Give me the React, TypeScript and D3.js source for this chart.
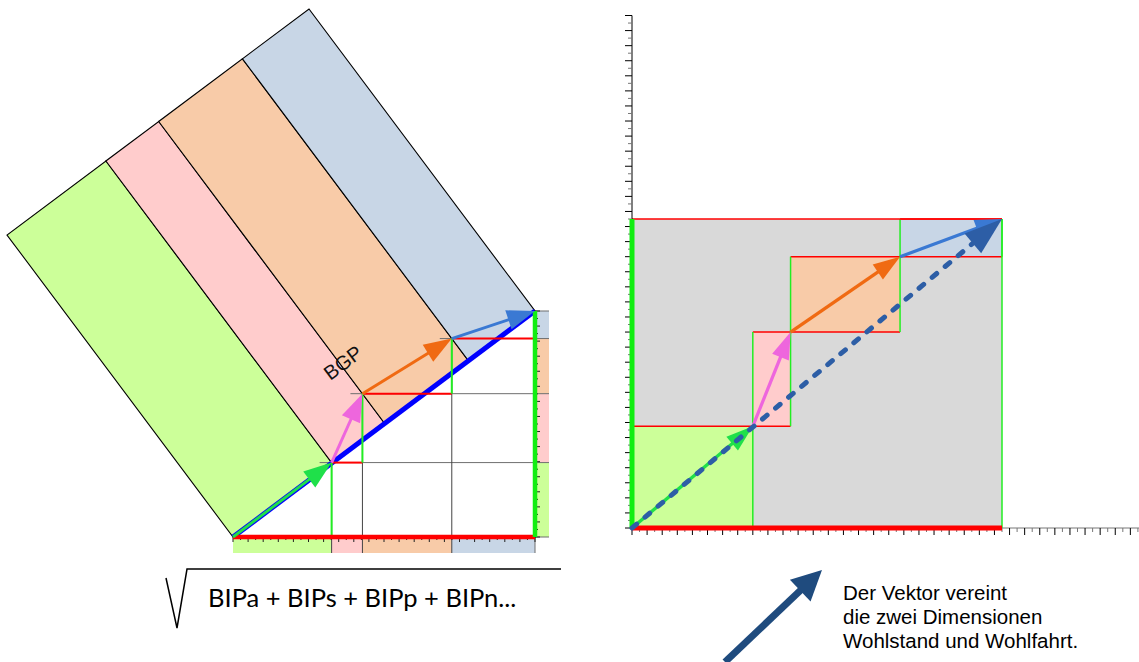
import React from 'react';
import * as d3 from 'd3';

// components of each vector: horizontal (Wohlstand) and vertical (Wohlfahrt)
const categories = ['BIPa', 'BIPs', 'BIPp', 'BIPn'];
const wohlstand = [16, 5, 14.5, 13.5];
const wohlfahrt = [13.5, 12.5, 10, 5];
const fillColors = ['#ccff99', '#ffcccc', '#f8cba8', '#c8d6e6'];
const arrowColors = ['#1fe04a', '#ee66dd', '#f06a12', '#3a79d3'];
const squareLabel = 'BGP';
const sumLabel = 'BIPa + BIPs + BIPp + BIPn...';
const noteLines = ['Der Vektor vereint', 'die zwei Dimensionen', 'Wohlstand und Wohlfahrt.'];

const W = 1139;
const H = 662;

type ArrowProps = {
  x1: number; y1: number; x2: number; y2: number;
  color: string; width: number; head: number; half: number; dash?: string;
};

function Arrow({x1, y1, x2, y2, color, width, head, half, dash}: ArrowProps) {
  const dx = x2 - x1;
  const dy = y2 - y1;
  const len = Math.hypot(dx, dy);
  const ux = dx / len;
  const uy = dy / len;
  const bx = x2 - ux * head;
  const by = y2 - uy * head;
  const pts = [
    [x2, y2],
    [bx - uy * half, by + ux * half],
    [bx + uy * half, by - ux * half],
  ];
  return (
    <g>
      <line x1={x1} y1={y1} x2={bx + ux * 3} y2={by + uy * 3} stroke={color} strokeWidth={width}
        strokeDasharray={dash} strokeLinecap={dash ? 'round' : 'butt'} />
      <polygon points={pts.map(p => p.join(',')).join(' ')} fill={color} />
    </g>
  );
}

export default function App() {
  const cumX = [0, ...Array.from(d3.cumsum(wohlstand))];
  const cumY = [0, ...Array.from(d3.cumsum(wohlfahrt))];
  const totX = cumX[cumX.length - 1];
  const totY = cumY[cumY.length - 1];

  // left: Pythagoras construction
  const xL = d3.scaleLinear().domain([0, totX]).range([233, 535]);
  const yL = d3.scaleLinear().domain([0, totY]).range([537, 311]);
  // right: coordinate system
  const xR = d3.scaleLinear().domain([0, totX]).range([632, 1002]);
  const yR = d3.scaleLinear().domain([0, totY]).range([528, 219]);

  const O = [xL(0), yL(0)];
  const E = [xL(totX), yL(totY)];
  const hyp = Math.hypot(E[0] - O[0], E[1] - O[1]);
  const u = [(E[0] - O[0]) / hyp, (E[1] - O[1]) / hyp];
  const n = [u[1], -u[0]];
  const proj = cumX.map((cx, i) => (xL(cx) - O[0]) * u[0] + (yL(cumY[i]) - O[1]) * u[1]);
  const onHyp = (s: number, t: number) => [O[0] + u[0] * s + n[0] * t, O[1] + u[1] * s + n[1] * t];
  const angle = Math.atan2(u[1], u[0]) * 180 / Math.PI;

  const bandBottom = 553;
  const bandRight = 549;
  const tickB = d3.scaleLinear().domain([0, 40]).range([xL(0), xL(totX)]);
  const tickR = d3.scaleLinear().domain([0, 30]).range([yL(0), yL(totY)]);

  const labelPos = onHyp(proj[2] + 3, 72);
  const idx = d3.range(categories.length);

  return (
    <svg width={W} height={H} style={{position: 'absolute', left: 0, top: 0, background: '#fff'}}>
      {/* ---------- left diagram ---------- */}
      {idx.map(i => {
        const a = onHyp(proj[i], 0), b = onHyp(proj[i + 1], 0);
        const c = onHyp(proj[i + 1], hyp), d = onHyp(proj[i], hyp);
        return <polygon key={'s' + i} points={[a, b, c, d].map(p => p.join(',')).join(' ')}
          fill={fillColors[i]} stroke="#000" strokeWidth={1.1} />;
      })}
      {idx.map(i => (
        <rect key={'bb' + i} x={xL(cumX[i])} y={yL(0)} width={xL(cumX[i + 1]) - xL(cumX[i])}
          height={bandBottom - yL(0)} fill={fillColors[i]} />
      ))}
      {idx.map(i => (
        <rect key={'br' + i} x={xL(totX)} y={yL(cumY[i + 1])} width={bandRight - xL(totX)}
          height={yL(cumY[i]) - yL(cumY[i + 1])} fill={fillColors[i]} />
      ))}
      {/* grid of the triangle */}
      {[1, 2, 3].map(i => (
        <line key={'gh' + i} x1={xL(cumX[i]) - 12} x2={bandRight} y1={yL(cumY[i])} y2={yL(cumY[i])}
          stroke="#6f6f6f" strokeWidth={1} />
      ))}
      {[1, 2, 3].map(i => (
        <line key={'gv' + i} x1={xL(cumX[i])} x2={xL(cumX[i])} y1={yL(cumY[i])} y2={bandBottom}
          stroke="#444" strokeWidth={1} />
      ))}
      <line x1={xL(0)} x2={bandRight} y1={yL(0)} y2={yL(0)} stroke="#6f6f6f" />
      <line x1={xL(totX)} x2={bandRight} y1={yL(totY)} y2={yL(totY)} stroke="#6f6f6f" />
      <line x1={xL(totX)} x2={xL(totX)} y1={yL(0)} y2={bandBottom} stroke="#6f6f6f" />
      {d3.range(0, 41).map(k => (
        <line key={'tb' + k} x1={tickB(k)} x2={tickB(k)} y1={yL(0)} y2={yL(0) + (k % 2 ? 3 : 5)}
          stroke="#222" strokeWidth={1} />
      ))}
      {d3.range(0, 31).map(k => (
        <line key={'tr' + k} x1={xL(totX)} x2={xL(totX) + (k % 2 ? 3 : 5)} y1={tickR(k)} y2={tickR(k)}
          stroke="#222" strokeWidth={1} />
      ))}
      <line x1={O[0]} y1={O[1]} x2={E[0]} y2={E[1]} stroke="#0000ff" strokeWidth={5} />
      {[1, 2, 3].map(i => (
        <line key={'rh' + i} x1={xL(cumX[i])} x2={xL(cumX[i + 1])} y1={yL(cumY[i])} y2={yL(cumY[i])}
          stroke="#ff0000" strokeWidth={2} />
      ))}
      {[1, 2, 3].map(i => (
        <line key={'gl' + i} x1={xL(cumX[i])} x2={xL(cumX[i])} y1={yL(cumY[i - 1])} y2={yL(cumY[i])}
          stroke="#22ee22" strokeWidth={2} />
      ))}
      <line x1={xL(0)} x2={xL(totX)} y1={yL(0)} y2={yL(0)} stroke="#ff0000" strokeWidth={4.5} />
      <line x1={xL(totX)} x2={xL(totX)} y1={yL(0)} y2={yL(totY)} stroke="#11ee11" strokeWidth={4.5} />
      {idx.map(i => (
        <Arrow key={'al' + i} x1={xL(cumX[i])} y1={yL(cumY[i])} x2={xL(cumX[i + 1])} y2={yL(cumY[i + 1])}
          color={arrowColors[i]} width={3} head={28} half={10} />
      ))}
      <text x={labelPos[0]} y={labelPos[1]} textAnchor="middle" dominantBaseline="middle"
        transform={`rotate(${angle}, ${labelPos[0]}, ${labelPos[1]})`}
        fontFamily="Liberation Sans, Arial, sans-serif" fontSize={20} fill="#111">{squareLabel}</text>

      {/* square root formula */}
      <polyline points="166,578 177,628 187,569 561,569" fill="none" stroke="#000" strokeWidth={1.5} />
      <text x={208} y={607} fontFamily="Lato, sans-serif" fontSize={25.5} fill="#000">{sumLabel}</text>

      {/* ---------- right diagram ---------- */}
      <rect x={xR(0)} y={yR(totY)} width={xR(totX) - xR(0)} height={yR(0) - yR(totY)} fill="#d9d9d9" />
      {idx.map(i => (
        <rect key={'rr' + i} x={xR(cumX[i])} y={yR(cumY[i + 1])} width={xR(cumX[i + 1]) - xR(cumX[i])}
          height={yR(cumY[i]) - yR(cumY[i + 1])} fill={fillColors[i]} />
      ))}
      {idx.map(i => (
        <g key={'re' + i}>
          <line x1={xR(cumX[i])} x2={xR(cumX[i + 1])} y1={yR(cumY[i])} y2={yR(cumY[i])} stroke="#ff0000" strokeWidth={1.5} />
          <line x1={xR(cumX[i])} x2={xR(cumX[i + 1])} y1={yR(cumY[i + 1])} y2={yR(cumY[i + 1])} stroke="#ff0000" strokeWidth={1.5} />
          <line x1={xR(cumX[i])} x2={xR(cumX[i])} y1={yR(cumY[i])} y2={yR(cumY[i + 1])} stroke="#22ee22" strokeWidth={1.5} />
          <line x1={xR(cumX[i + 1])} x2={xR(cumX[i + 1])} y1={yR(cumY[i])} y2={yR(cumY[i + 1])} stroke="#22ee22" strokeWidth={1.5} />
        </g>
      ))}
      <line x1={xR(0)} x2={xR(totX)} y1={yR(totY)} y2={yR(totY)} stroke="#ff0000" strokeWidth={1.5} />
      <line x1={xR(totX)} x2={xR(totX)} y1={yR(0)} y2={yR(totY)} stroke="#22ee22" strokeWidth={1.5} />
      {/* axes */}
      <line x1={xR(0)} x2={xR(0)} y1={yR(68)} y2={yR(0)} stroke="#000" strokeWidth={1} />
      <line x1={xR(0)} x2={xR(67.2)} y1={yR(0)} y2={yR(0)} stroke="#777" strokeWidth={1} />
      {d3.range(0, 69).map(k => (
        <line key={'ty' + k} x1={xR(0) - (k % 2 ? 4 : 7)} x2={xR(0)} y1={yR(k)} y2={yR(k)}
          stroke={k % 2 ? '#777' : '#000'} strokeWidth={1} />
      ))}
      {d3.range(0, 68).map(k => (
        <line key={'tx' + k} x1={xR(k)} x2={xR(k)} y1={yR(0)} y2={yR(0) + (k % 2 ? 4 : 7)}
          stroke={k % 2 ? '#777' : '#000'} strokeWidth={1} />
      ))}
      <line x1={xR(0)} x2={xR(totX)} y1={yR(0)} y2={yR(0)} stroke="#ff0000" strokeWidth={5} />
      <line x1={xR(0)} x2={xR(0)} y1={yR(0)} y2={yR(totY)} stroke="#11ee11" strokeWidth={5} />
      {idx.map(i => (
        <Arrow key={'ar' + i} x1={xR(cumX[i])} y1={yR(cumY[i])} x2={xR(cumX[i + 1])} y2={yR(cumY[i + 1])}
          color={arrowColors[i]} width={3.3} head={27} half={9} />
      ))}
      <Arrow x1={xR(0)} y1={yR(0)} x2={xR(totX)} y2={yR(totY)} color="#2d5ea6" width={5}
        head={38} half={13} dash="6 11" />

      {/* note */}
      <Arrow x1={725} y1={662} x2={822} y2={570} color="#1f4b7e" width={7} head={30} half={15} />
      {noteLines.map((t, i) => (
        <text key={'n' + i} x={843} y={600 + i * 24} fontFamily="Liberation Sans, Arial, sans-serif"
          fontSize={20.5} fill="#000">{t}</text>
      ))}
    </svg>
  );
}
